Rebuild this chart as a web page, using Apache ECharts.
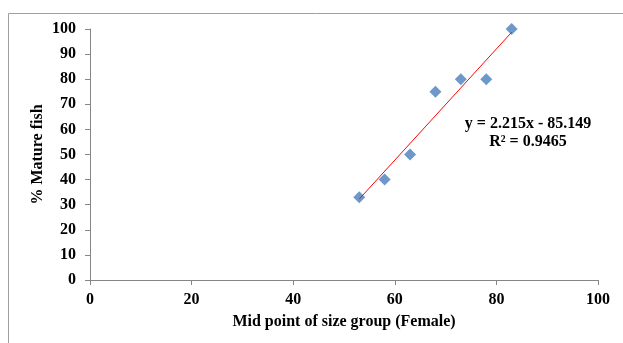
<!DOCTYPE html>
<html lang="en" style="height: 100%">
<head>
  <meta charset="utf-8">
</head>
<body style="height: 100%; margin: 0; background: #fff">
  <div id="container" style="height: 100%"></div>
  <script type="text/javascript" src="https://fastly.jsdelivr.net/npm/echarts@6/dist/echarts.min.js"></script>
  <script type="text/javascript">
// mid point of size group (female) and % mature fish
var sizeMid = [53, 58, 63, 68, 73, 78, 83];
var pctMature = [33, 40, 50, 75, 80, 80, 100];
// linear trendline from the chart's equation
var slope = 2.215;
var intercept = -85.149;
var trendX = [53, 83];

var dom = document.getElementById('container');
var myChart = echarts.init(dom, null, { renderer: 'canvas' });

var points = sizeMid.map(function (x, i) { return [x, pctMature[i]]; });
var trend = trendX.map(function (x) { return [x, slope * x + intercept]; });

var font = '"Liberation Serif", "Times New Roman", serif';
var axisText = { color: '#000', fontFamily: font, fontWeight: 'bold', fontSize: 16 };

var option = {
  animation: false,
  graphic: [{
    type: 'rect',
    shape: { x: 8.5, y: 13.5, width: 700, height: 400 },
    style: { fill: 'none', stroke: '#a0a0a0', lineWidth: 1 },
    silent: true
  }, {
    type: 'text',
    x: 528, y: 115,
    style: {
      text: 'y = 2.215x - 85.149\nR² = 0.9465',
      font: 'bold 16px ' + font,
      fill: '#000',
      align: 'center',
      lineHeight: 18
    }
  }],
  grid: { left: 90, right: 25, top: 29, bottom: 63 },
  xAxis: {
    type: 'value', min: 0, max: 100, interval: 20,
    name: 'Mid point of size group (Female)',
    nameLocation: 'middle', nameGap: 34,
    nameMoveOverlap: false,
    nameTextStyle: axisText,
    axisLine: { show: true, lineStyle: { color: '#868686' } },
    axisTick: { show: true, length: 5, lineStyle: { color: '#868686' } },
    axisLabel: Object.assign({ margin: 12 }, axisText),
    splitLine: { show: false }
  },
  yAxis: {
    type: 'value', min: 0, max: 100, interval: 10,
    name: '% Mature fish',
    nameLocation: 'middle', nameGap: 44, nameRotate: 90,
    nameMoveOverlap: false,
    nameTextStyle: axisText,
    axisLine: { show: true, lineStyle: { color: '#868686' } },
    axisTick: { show: true, length: 5, lineStyle: { color: '#868686' } },
    axisLabel: Object.assign({ margin: 14 }, axisText),
    splitLine: { show: false }
  },
  series: [{
    type: 'line',
    data: trend,
    showSymbol: false,
    lineStyle: { color: '#ff0000', width: 1 },
    z: 3
  }, {
    type: 'scatter',
    data: points,
    symbol: 'diamond',
    symbolSize: 12,
    itemStyle: { color: '#4a7ebb' },
    z: 2
  }]
};

myChart.setOption(option);
window.addEventListener('resize', myChart.resize);
  </script>
</body>
</html>
